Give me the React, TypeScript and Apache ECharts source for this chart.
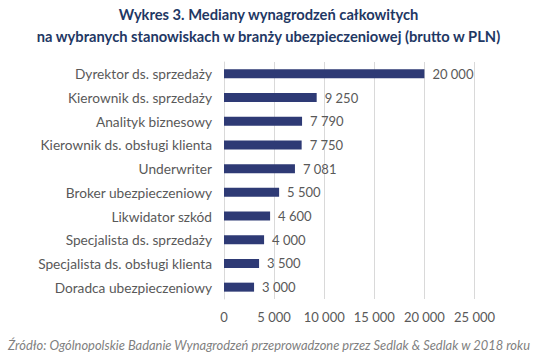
import React, { useEffect, useRef } from "react";
import * as echarts from "echarts";

const categories = [
  "Dyrektor ds. sprzedaży",
  "Kierownik ds. sprzedaży",
  "Analityk biznesowy",
  "Kierownik ds. obsługi klienta",
  "Underwriter",
  "Broker ubezpieczeniowy",
  "Likwidator szkód",
  "Specjalista ds. sprzedaży",
  "Specjalista ds. obsługi klienta",
  "Doradca ubezpieczeniowy",
];
const values = [20000, 9250, 7790, 7750, 7081, 5500, 4600, 4000, 3500, 3000];
const titleLines = [
  "Wykres 3. Mediany wynagrodzeń całkowitych",
  "na wybranych stanowiskach w branży ubezpieczeniowej (brutto w PLN)",
];
const sourceText =
  "Źródło: Ogólnopolskie Badanie Wynagrodzeń przeprowadzone przez Sedlak & Sedlak w 2018 roku";

const fmt = (v: number) => String(v).replace(/\B(?=(\d{3})+(?!\d))/g, " ");
const FONT = "Lato, 'Open Sans', sans-serif";

export default function App() {
  const ref = useRef<HTMLDivElement>(null);
  useEffect(() => {
    const chart = echarts.init(ref.current!, null, { renderer: "svg" });
    chart.setOption({
      animation: false,
      backgroundColor: "#ffffff",
      textStyle: { fontFamily: FONT },
      title: {
        text: titleLines.join("\n"),
        left: "center",
        top: 3,
        padding: 0,
        textStyle: {
          fontFamily: FONT,
          fontSize: 14.7,
          fontWeight: "bold",
          color: "#1F3864",
          lineHeight: 22,
        },
      },
      graphic: [
        {
          type: "text",
          x: 530,
          y: 345,
          style: {
            text: sourceText,
            fontFamily: FONT,
            fontSize: 12.9,
            fontStyle: "italic",
            fill: "#7F7F7F",
            align: "right",
            verticalAlign: "middle",
          },
        },
      ],
      grid: { left: 224, right: 62.5, top: 62, bottom: 59, containLabel: false },
      xAxis: {
        type: "value",
        min: 0,
        max: 25000,
        interval: 5000,
        axisLine: { show: false },
        axisTick: { show: false },
        splitLine: { lineStyle: { color: "#D9D9D9" } },
        axisLabel: {
          formatter: (v: number) => fmt(v),
          color: "#595959",
          fontSize: 13,
          margin: 11,
          fontFamily: FONT,
        },
      },
      yAxis: {
        type: "category",
        data: categories,
        inverse: true,
        axisLine: { show: true, lineStyle: { color: "#D9D9D9" } },
        axisTick: { show: false },
        axisLabel: { color: "#595959", fontSize: 13.7, margin: 12, fontFamily: FONT },
      },
      series: [
        {
          type: "bar",
          data: values,
          barWidth: 9,
          itemStyle: { color: "#2E3A75" },
          label: {
            show: true,
            position: "right",
            distance: 8,
            formatter: (p: any) => fmt(p.value),
            color: "#595959",
            fontSize: 13,
            fontFamily: FONT,
          },
        },
      ],
    });
    return () => chart.dispose();
  }, []);
  return <div ref={ref} style={{ width: 537, height: 358, position: "absolute", left: 0, top: 0 }} />;
}
